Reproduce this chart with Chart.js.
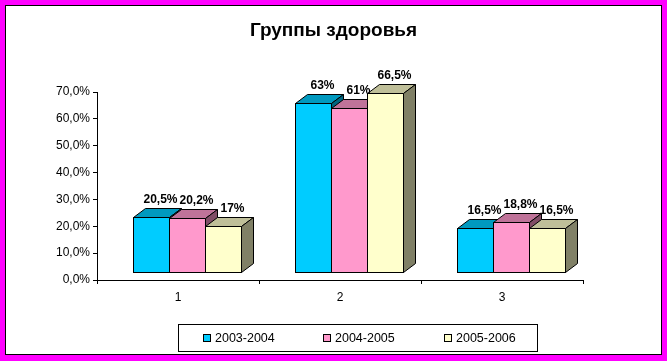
<!DOCTYPE html>
<html>
<head>
<meta charset="utf-8">
<script src="https://cdn.jsdelivr.net/npm/chart.js@4/dist/chart.umd.min.js"></script>
<style>
  html, body { margin: 0; padding: 0; background: #fff; }
  canvas { display: block; }
</style>
</head>
<body>
<canvas id="c" width="667" height="361"></canvas>
<script>
const chartTitle = 'Группы здоровья';
const categories = ['1', '2', '3'];
const seriesNames = ['2003-2004', '2004-2005', '2005-2006'];
const values2003 = [20.5, 63, 16.5];
const values2004 = [20.2, 61, 18.8];
const values2005 = [17, 66.5, 16.5];
const yTickLabels = ['0,0%', '10,0%', '20,0%', '30,0%', '40,0%', '50,0%', '60,0%', '70,0%'];

const frontColors = ['#00CCFF', '#FF99CC', '#FFFFCC'];
const topColors = ['#0099BF', '#BF7399', '#BFBF99'];
const sideColors = ['#006680', '#804D66', '#808066'];

const FONT = '"Liberation Sans", Arial, sans-serif';
const DEPTH = { dx: 12, dy: 9 };
const SHIFT = { x: 9, y: 8 };

function fmtVal(v) {
  return (Number.isInteger(v) ? String(v) : v.toFixed(1).replace('.', ',')) + '%';
}

const framePlugin = {
  id: 'frame',
  beforeDraw(chart) {
    const ctx = chart.ctx, W = chart.width, H = chart.height;
    ctx.save();
    ctx.fillStyle = '#FF00FF';
    ctx.fillRect(0, 0, W, H);
    ctx.fillStyle = '#FFFFFF';
    ctx.fillRect(5, 5, W - 10, H - 11);
    ctx.strokeStyle = '#000';
    ctx.lineWidth = 1;
    ctx.strokeRect(5.5, 5.5, W - 11, H - 12);
    // title
    ctx.fillStyle = '#000';
    ctx.font = 'bold 19px ' + FONT;
    ctx.textAlign = 'center';
    ctx.textBaseline = 'middle';
    ctx.fillText(chartTitle, W / 2, 31);
    ctx.restore();
  },
  afterDraw(chart) {
    const ctx = chart.ctx;
    ctx.save();
    // legend box
    const bx = 178.5, by = 324.5, bw = 359, bh = 27;
    ctx.strokeStyle = '#000';
    ctx.lineWidth = 1;
    ctx.strokeRect(bx, by, bw, bh);
    ctx.font = '12.5px ' + FONT;
    ctx.textBaseline = 'middle';
    ctx.textAlign = 'left';
    const cy = by + bh / 2;
    chart.data.datasets.forEach((ds, i) => {
      const mx = Math.round(bx + 24 + i * 120.5);
      ctx.fillStyle = ds.backgroundColor;
      ctx.fillRect(mx, Math.round(cy - 4), 8, 8);
      ctx.strokeRect(mx + 0.5, Math.round(cy - 4) + 0.5, 7, 7);
      ctx.fillStyle = '#000';
      ctx.fillText(ds.label, mx + 12, cy + 0.5);
    });
    ctx.restore();
  }
};

const bars3dPlugin = {
  id: 'bars3d',
  beforeDatasetsDraw(chart) {
    const ctx = chart.ctx;
    const n = chart.data.labels.length;
    const metas = chart.data.datasets.map((_, d) => chart.getDatasetMeta(d));
    const labels = [];
    ctx.save();
    ctx.strokeStyle = '#000';
    ctx.lineWidth = 1;
    ctx.lineJoin = 'miter';
    for (let i = 0; i < n; i++) {
      metas.forEach((meta, d) => {
        const el = meta.data[i];
        const p = el.getProps(['x', 'y', 'base', 'width'], true);
        const L = Math.round(p.x - p.width / 2 + SHIFT.x) + 0.5;
        const R = Math.round(p.x + p.width / 2 + SHIFT.x) + 0.5;
        const T = Math.round(p.y - SHIFT.y) + 0.5;
        const B = Math.round(p.base - SHIFT.y) + 0.5;
        const dx = DEPTH.dx, dy = DEPTH.dy;
        // front
        ctx.fillStyle = frontColors[d];
        ctx.fillRect(L, T, R - L, B - T);
        ctx.strokeRect(L, T, R - L, B - T);
        // top
        ctx.beginPath();
        ctx.moveTo(L, T); ctx.lineTo(L + dx, T - dy); ctx.lineTo(R + dx, T - dy); ctx.lineTo(R, T); ctx.closePath();
        ctx.fillStyle = topColors[d];
        ctx.fill(); ctx.stroke();
        // side
        ctx.beginPath();
        ctx.moveTo(R, T); ctx.lineTo(R + dx, T - dy); ctx.lineTo(R + dx, B - dy); ctx.lineTo(R, B); ctx.closePath();
        ctx.fillStyle = sideColors[d];
        ctx.fill(); ctx.stroke();
        labels.push({ x: (L + R) / 2 + dx / 2 + 3, y: T - dy - 3, text: fmtVal(chart.data.datasets[d].data[i]) });
      });
    }
    ctx.fillStyle = '#000';
    ctx.font = 'bold 12px ' + FONT;
    ctx.textAlign = 'center';
    ctx.textBaseline = 'bottom';
    labels.forEach(l => ctx.fillText(l.text, l.x, l.y));
    ctx.restore();
    return false;
  }
};

new Chart(document.getElementById('c'), {
  type: 'bar',
  data: {
    labels: categories,
    datasets: [
      { label: seriesNames[0], data: values2003, backgroundColor: frontColors[0] },
      { label: seriesNames[1], data: values2004, backgroundColor: frontColors[1] },
      { label: seriesNames[2], data: values2005, backgroundColor: frontColors[2] }
    ]
  },
  options: {
    responsive: false,
    animation: false,
    devicePixelRatio: 1,
    categoryPercentage: 0.6667,
    barPercentage: 1,
    layout: { padding: { top: 92, right: 84, bottom: 51, left: 0 } },
    plugins: {
      legend: { display: false },
      title: { display: false },
      tooltip: { enabled: false }
    },
    scales: {
      x: {
        grid: { offset: true, drawOnChartArea: false, drawTicks: true, tickLength: 4, color: '#000' },
        border: { display: true, color: '#000', width: 1 },
        ticks: { color: '#000', font: { family: FONT, size: 12 }, padding: 6 },
        afterFit(s) { s.height = 30; }
      },
      y: {
        min: 0, max: 70,
        grid: { drawOnChartArea: false, drawTicks: true, tickLength: 4, color: '#000' },
        border: { display: true, color: '#000', width: 1 },
        ticks: {
          stepSize: 10, color: '#000', padding: 3,
          font: { family: FONT, size: 12 },
          callback: (v, i) => yTickLabels[i]
        },
        afterFit(s) { s.width = 97; }
      }
    }
  },
  plugins: [framePlugin, bars3dPlugin]
});
</script>
</body>
</html>
